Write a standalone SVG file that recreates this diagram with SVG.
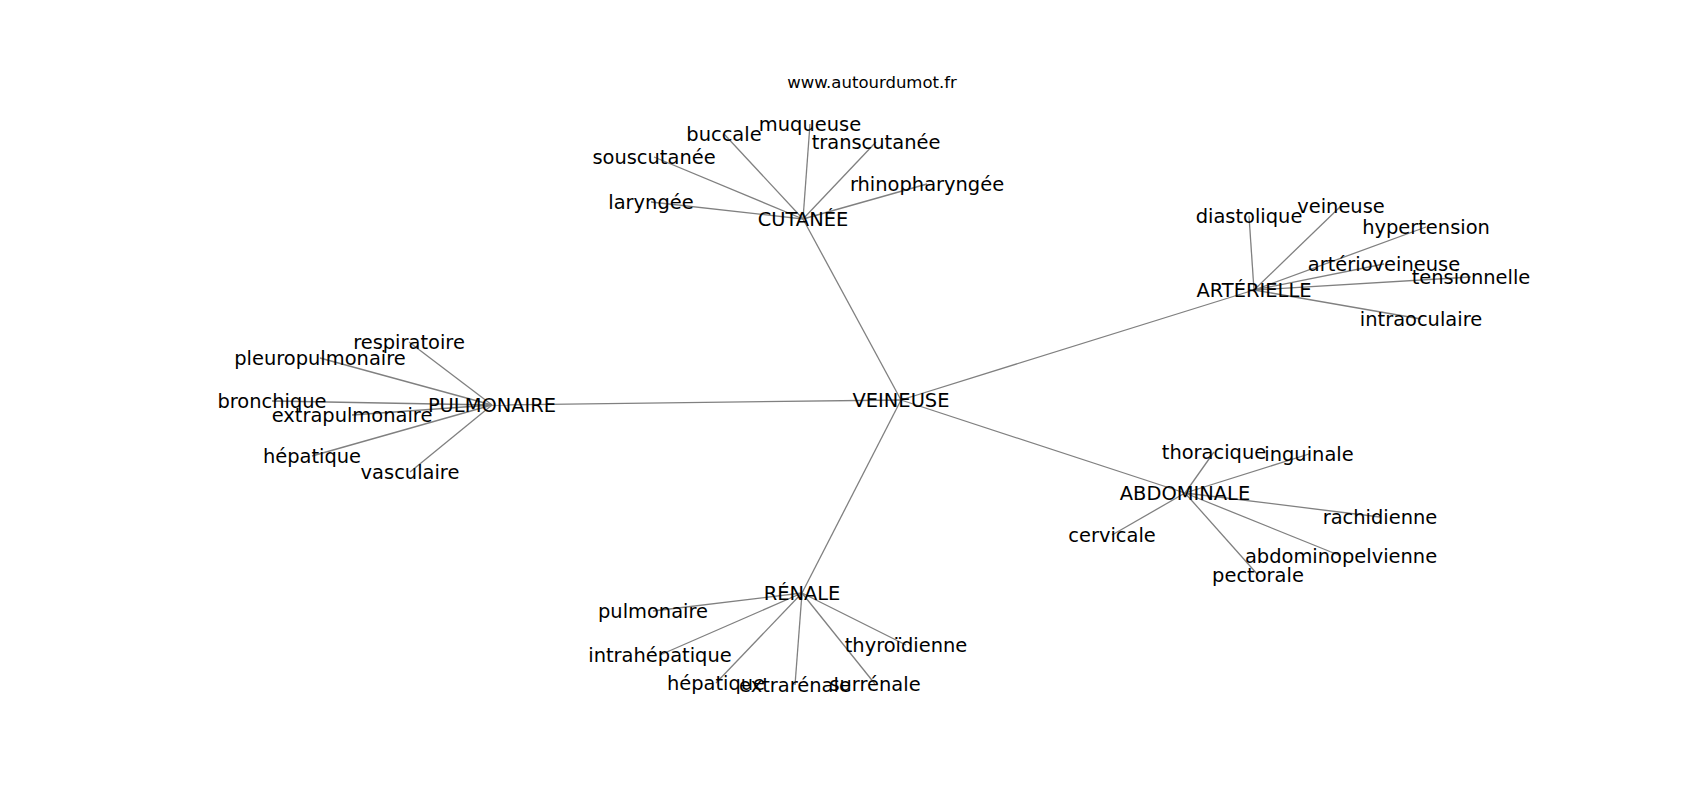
<svg xmlns="http://www.w3.org/2000/svg" width="1700" height="800" viewBox="0 0 1700 800">
<style>
.e{stroke:#808080;stroke-width:1.3;fill:none}
.n text{font-family:"DejaVu Sans",sans-serif;font-size:19.44px;fill:#000;text-anchor:middle;dominant-baseline:central}
.t{font-family:"DejaVu Sans",sans-serif;font-size:16.5px;fill:#000;text-anchor:middle;dominant-baseline:central}
</style>
<rect width="1700" height="800" fill="#fff"/>
<text class="t" x="872" y="82">www.autourdumot.fr</text>
<g id="edges">
<line class="e" x1="901" y1="400" x2="803" y2="219"/>
<line class="e" x1="901" y1="400" x2="1254" y2="290"/>
<line class="e" x1="901" y1="400" x2="492" y2="405"/>
<line class="e" x1="901" y1="400" x2="1185" y2="493"/>
<line class="e" x1="901" y1="400" x2="802" y2="593"/>
<line class="e" x1="803" y1="219" x2="651" y2="202"/>
<line class="e" x1="803" y1="219" x2="654" y2="157"/>
<line class="e" x1="803" y1="219" x2="724" y2="134"/>
<line class="e" x1="803" y1="219" x2="810" y2="124"/>
<line class="e" x1="803" y1="219" x2="876" y2="142"/>
<line class="e" x1="803" y1="219" x2="927" y2="184"/>
<line class="e" x1="1254" y1="290" x2="1249" y2="216"/>
<line class="e" x1="1254" y1="290" x2="1341" y2="206"/>
<line class="e" x1="1254" y1="290" x2="1426" y2="227"/>
<line class="e" x1="1254" y1="290" x2="1384" y2="264"/>
<line class="e" x1="1254" y1="290" x2="1471" y2="277"/>
<line class="e" x1="1254" y1="290" x2="1421" y2="319"/>
<line class="e" x1="492" y1="405" x2="409" y2="342"/>
<line class="e" x1="492" y1="405" x2="320" y2="358"/>
<line class="e" x1="492" y1="405" x2="272" y2="401"/>
<line class="e" x1="492" y1="405" x2="352" y2="415"/>
<line class="e" x1="492" y1="405" x2="312" y2="456"/>
<line class="e" x1="492" y1="405" x2="410" y2="472"/>
<line class="e" x1="1185" y1="493" x2="1214" y2="452"/>
<line class="e" x1="1185" y1="493" x2="1309" y2="454"/>
<line class="e" x1="1185" y1="493" x2="1380" y2="517"/>
<line class="e" x1="1185" y1="493" x2="1112" y2="535"/>
<line class="e" x1="1185" y1="493" x2="1341" y2="556"/>
<line class="e" x1="1185" y1="493" x2="1258" y2="575"/>
<line class="e" x1="802" y1="593" x2="653" y2="611"/>
<line class="e" x1="802" y1="593" x2="660" y2="655"/>
<line class="e" x1="802" y1="593" x2="716" y2="683"/>
<line class="e" x1="802" y1="593" x2="795" y2="685"/>
<line class="e" x1="802" y1="593" x2="875" y2="684"/>
<line class="e" x1="802" y1="593" x2="906" y2="645"/>
</g>
<g class="n">
<g id="n-veineuse-c"><text x="901" y="400">VEINEUSE</text></g>
<g id="n-cutanee"><text x="803" y="219">CUTANÉE</text></g>
<g id="n-arterielle"><text x="1254" y="290">ARTÉRIELLE</text></g>
<g id="n-pulmonaire-h"><text x="492" y="405">PULMONAIRE</text></g>
<g id="n-abdominale"><text x="1185" y="493">ABDOMINALE</text></g>
<g id="n-renale"><text x="802" y="593">RÉNALE</text></g>
<g id="n-laryngee"><text x="651" y="202">laryngée</text></g>
<g id="n-souscutanee"><text x="654" y="157">souscutanée</text></g>
<g id="n-buccale"><text x="724" y="134">buccale</text></g>
<g id="n-muqueuse"><text x="810" y="124">muqueuse</text></g>
<g id="n-transcutanee"><text x="876" y="142">transcutanée</text></g>
<g id="n-rhinopharyngee"><text x="927" y="184">rhinopharyngée</text></g>
<g id="n-diastolique"><text x="1249" y="216">diastolique</text></g>
<g id="n-veineuse"><text x="1341" y="206">veineuse</text></g>
<g id="n-hypertension"><text x="1426" y="227">hypertension</text></g>
<g id="n-arterioveineuse"><text x="1384" y="264">artérioveineuse</text></g>
<g id="n-tensionnelle"><text x="1471" y="277">tensionnelle</text></g>
<g id="n-intraoculaire"><text x="1421" y="319">intraoculaire</text></g>
<g id="n-respiratoire"><text x="409" y="342">respiratoire</text></g>
<g id="n-pleuropulmonaire"><text x="320" y="358">pleuropulmonaire</text></g>
<g id="n-bronchique"><text x="272" y="401">bronchique</text></g>
<g id="n-extrapulmonaire"><text x="352" y="415">extrapulmonaire</text></g>
<g id="n-hepatique-p"><text x="312" y="456">hépatique</text></g>
<g id="n-vasculaire"><text x="410" y="472">vasculaire</text></g>
<g id="n-thoracique"><text x="1214" y="452">thoracique</text></g>
<g id="n-inguinale"><text x="1309" y="454">inguinale</text></g>
<g id="n-rachidienne"><text x="1380" y="517">rachidienne</text></g>
<g id="n-cervicale"><text x="1112" y="535">cervicale</text></g>
<g id="n-abdominopelvienne"><text x="1341" y="556">abdominopelvienne</text></g>
<g id="n-pectorale"><text x="1258" y="575">pectorale</text></g>
<g id="n-pulmonaire"><text x="653" y="611">pulmonaire</text></g>
<g id="n-intrahepatique"><text x="660" y="655">intrahépatique</text></g>
<g id="n-hepatique-r"><text x="716" y="683">hépatique</text></g>
<g id="n-extrarenale"><text x="795" y="685">extrarénale</text></g>
<g id="n-surrenale"><text x="875" y="684">surrénale</text></g>
<g id="n-thyroidienne"><text x="906" y="645">thyroïdienne</text></g>
</g>
</svg>
